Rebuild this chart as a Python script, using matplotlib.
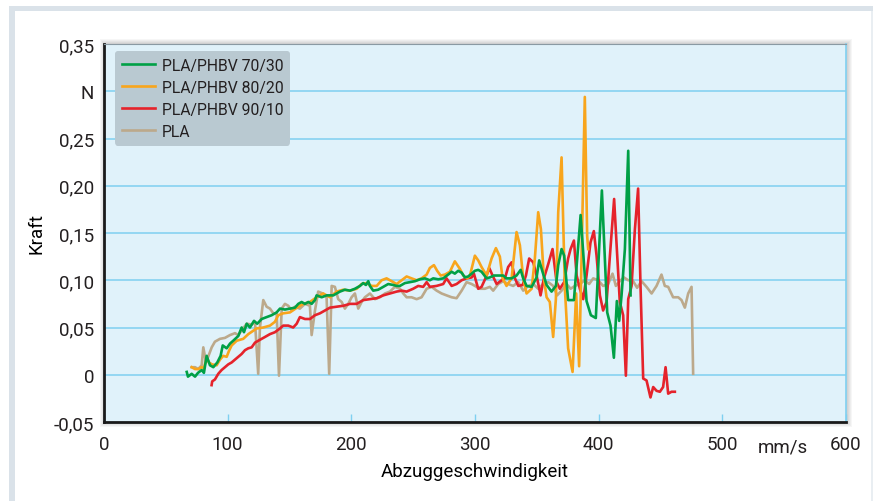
import matplotlib
matplotlib.use("Agg")
import matplotlib.pyplot as plt
from matplotlib.patches import Rectangle

# --- data (x in mm/s, force in N) ---
x_7030 = [66.9, 67.9, 70.9, 73.6, 76.0, 79.0, 80.8, 83.0, 85.7, 88.4, 91.6, 94.3, 96.0, 99.2, 101.9,
          104.5, 108.6, 111.3, 113.2, 115.4, 118.0, 121.3, 123.9, 127.5, 131.5, 135.6, 139.6, 142.3,
          146.3, 150.4, 154.4, 157.1, 159.8, 162.5, 165.2, 167.9, 170.6, 171.9, 176.0, 180.0, 185.4,
          190.8, 194.8, 198.9, 202.9, 207.0, 209.6, 211.8, 213.7, 215.0, 217.7, 221.7, 225.8, 229.8,
          233.9, 236.6, 239.3, 243.3, 247.4, 251.4, 255.5, 259.5, 263.5, 266.2, 270.3, 274.3, 278.3,
          281.1, 283.7, 286.4, 289.2, 291.8, 294.5, 297.3, 299.9, 302.6, 305.3, 309.4, 312.0, 315.3,
          322.8, 325.5, 329.6, 333.6, 336.9, 339.0, 341.7, 345.8, 349.8, 351.9, 354.6, 357.9, 361.9,
          365.4, 367.3, 370.0, 372.1, 375.3, 380.0, 385.4, 390.2, 393.7, 397.7, 402.6, 405.0, 406.9,
          409.6, 412.3, 414.7, 416.6, 418.5, 421.2, 423.9, 425.8]
f_7030 = [0.003, -0.002, 0.001, -0.002, 0.002, 0.005, 0.002, 0.020, 0.010, 0.008, 0.013, 0.020, 0.031,
          0.028, 0.033, 0.036, 0.041, 0.050, 0.045, 0.054, 0.050, 0.057, 0.054, 0.059, 0.061, 0.063,
          0.066, 0.070, 0.069, 0.070, 0.071, 0.075, 0.077, 0.075, 0.077, 0.075, 0.079, 0.084, 0.082,
          0.084, 0.084, 0.088, 0.090, 0.089, 0.091, 0.094, 0.097, 0.095, 0.099, 0.094, 0.089, 0.090,
          0.093, 0.096, 0.095, 0.094, 0.094, 0.097, 0.098, 0.099, 0.101, 0.102, 0.100, 0.102, 0.101,
          0.102, 0.106, 0.109, 0.107, 0.110, 0.108, 0.103, 0.104, 0.107, 0.110, 0.111, 0.109, 0.102,
          0.103, 0.105, 0.105, 0.102, 0.102, 0.105, 0.111, 0.102, 0.094, 0.093, 0.103, 0.121, 0.109,
          0.095, 0.088, 0.094, 0.116, 0.133, 0.126, 0.079, 0.079, 0.169, 0.078, 0.063, 0.060, 0.195,
          0.123, 0.066, 0.052, 0.018, 0.078, 0.057, 0.084, 0.133, 0.237, 0.084]

x_8020 = [70.9, 73.6, 76.2, 79.0, 80.8, 83.0, 84.9, 87.3, 91.1, 93.8, 96.4, 99.2, 101.0, 103.2, 107.3,
          112.6, 116.7, 123.4, 128.8, 134.2, 138.2, 140.9, 144.9, 150.4, 157.1, 161.1, 166.5, 171.9,
          177.3, 182.7, 188.1, 193.5, 198.9, 204.3, 208.3, 212.4, 216.4, 220.5, 224.5, 228.5, 232.6,
          236.6, 240.7, 244.7, 248.7, 252.8, 256.8, 260.9, 263.5, 266.8, 269.4, 272.2, 275.7, 279.7,
          283.7, 287.8, 290.5, 293.7, 295.9, 299.9, 302.6, 305.3, 309.4, 313.4, 316.9, 320.1, 322.3,
          325.5, 329.6, 333.6, 336.3, 339.0, 341.7, 345.8, 348.4, 351.1, 353.3, 355.7, 357.9, 360.5,
          363.2, 365.4, 367.3, 370.0, 372.7, 375.3, 378.9, 381.8, 384.2, 386.2, 388.8, 390.7, 391.5]
f_8020 = [0.008, 0.006, 0.006, 0.008, 0.007, 0.018, 0.013, 0.011, 0.010, 0.016, 0.020, 0.019, 0.025,
          0.031, 0.036, 0.038, 0.043, 0.049, 0.050, 0.052, 0.056, 0.063, 0.065, 0.066, 0.072, 0.075,
          0.077, 0.082, 0.086, 0.082, 0.088, 0.090, 0.089, 0.091, 0.096, 0.097, 0.094, 0.094, 0.100,
          0.102, 0.099, 0.096, 0.100, 0.104, 0.102, 0.100, 0.102, 0.106, 0.113, 0.116, 0.110, 0.105,
          0.106, 0.109, 0.120, 0.112, 0.105, 0.102, 0.105, 0.126, 0.121, 0.114, 0.105, 0.123, 0.134,
          0.125, 0.102, 0.094, 0.102, 0.151, 0.137, 0.102, 0.086, 0.091, 0.123, 0.172, 0.154, 0.102,
          0.082, 0.077, 0.040, 0.080, 0.172, 0.230, 0.091, 0.028, 0.003, 0.086, 0.009, 0.126, 0.294,
          0.147, 0.133]

x_9010 = [87.0, 87.5, 89.7, 92.4, 95.1, 97.8, 100.5, 103.2, 105.9, 108.6, 111.3, 114.0, 116.7, 119.4,
          122.1, 126.1, 130.2, 134.2, 138.2, 142.3, 144.9, 149.0, 153.0, 155.8, 158.4, 162.5, 166.5,
          170.6, 174.6, 178.7, 182.7, 188.1, 193.5, 198.9, 204.3, 209.6, 215.0, 220.5, 225.8, 231.2,
          236.6, 240.7, 244.7, 250.0, 254.1, 258.1, 260.9, 263.5, 268.9, 274.3, 277.0, 281.1, 285.1,
          289.2, 293.2, 297.3, 299.1, 302.6, 305.3, 308.8, 311.5, 314.2, 317.5, 321.5, 324.2, 326.8,
          329.6, 332.3, 335.0, 338.5, 341.2, 343.8, 347.1, 349.8, 353.0, 355.7, 359.2, 362.7, 366.0,
          368.6, 372.1, 375.3, 377.3, 380.0, 382.2, 384.8, 387.5, 390.2, 393.4, 396.1, 398.3, 401.0,
          403.6, 406.4, 409.1, 412.5, 414.4, 417.1, 419.8, 422.0, 423.9, 426.6, 429.3, 431.9, 433.9,
          436.0, 438.7, 441.9, 444.1, 446.8, 449.5, 452.1, 454.1, 456.2, 458.9, 461.6]
f_9010 = [-0.011, -0.007, -0.005, 0.001, 0.005, 0.008, 0.011, 0.013, 0.016, 0.019, 0.022, 0.026, 0.028,
          0.029, 0.034, 0.037, 0.040, 0.043, 0.045, 0.049, 0.052, 0.052, 0.050, 0.054, 0.061, 0.059,
          0.059, 0.063, 0.065, 0.068, 0.071, 0.072, 0.073, 0.075, 0.075, 0.079, 0.080, 0.081, 0.084,
          0.086, 0.088, 0.089, 0.088, 0.091, 0.094, 0.093, 0.098, 0.093, 0.094, 0.096, 0.102, 0.094,
          0.096, 0.100, 0.102, 0.103, 0.107, 0.091, 0.093, 0.103, 0.113, 0.105, 0.096, 0.100, 0.102,
          0.114, 0.119, 0.102, 0.094, 0.095, 0.105, 0.123, 0.119, 0.105, 0.084, 0.102, 0.117, 0.133,
          0.098, 0.091, 0.098, 0.123, 0.133, 0.142, 0.105, 0.091, 0.080, 0.105, 0.140, 0.152, 0.126,
          0.084, 0.068, 0.077, 0.126, 0.186, 0.140, 0.077, 0.063, -0.001, 0.080, 0.094, 0.154, 0.197,
          0.091, -0.004, -0.006, -0.024, -0.013, -0.017, -0.018, -0.013, 0.008, -0.020, -0.018, -0.018]

x_pla = [70.9, 73.6, 76.2, 79.0, 80.3, 82.5, 84.5, 87.1, 89.7, 93.8, 97.8, 101.9, 105.9, 108.6, 111.3,
         115.4, 119.4, 122.1, 124.7, 126.1, 128.8, 131.5, 134.2, 136.9, 139.6, 141.5, 143.7, 146.3,
         149.0, 151.7, 154.4, 158.4, 162.5, 166.5, 167.9, 170.6, 173.2, 176.8, 180.0, 182.1, 184.1,
         186.7, 189.4, 192.2, 194.8, 197.5, 200.2, 202.9, 205.6, 208.3, 211.0, 215.0, 219.1, 223.1,
         227.2, 231.2, 235.2, 239.3, 242.0, 244.7, 248.7, 252.8, 256.8, 260.9, 264.9, 269.0, 273.0,
         277.0, 281.1, 285.1, 289.2, 293.2, 297.3, 301.3, 304.0, 308.0, 312.0, 314.7, 318.8, 322.8,
         326.8, 330.9, 334.9, 339.0, 343.0, 347.1, 351.1, 355.1, 359.2, 363.2, 366.4, 370.0, 374.1,
         377.3, 380.8, 384.8, 388.8, 392.3, 395.6, 399.6, 403.6, 407.7, 411.2, 413.9, 417.1, 420.4,
         423.9, 427.4, 431.1, 434.7, 438.7, 442.8, 446.8, 450.8, 453.5, 456.2, 460.2, 464.3, 467.0,
         469.7, 472.4, 475.1, 476.4]
f_pla = [0.008, 0.008, 0.006, 0.010, 0.029, 0.013, 0.020, 0.029, 0.035, 0.038, 0.039, 0.042, 0.044,
         0.042, 0.047, 0.054, 0.053, 0.056, 0.001, 0.050, 0.079, 0.072, 0.070, 0.065, 0.065, -0.001,
         0.070, 0.075, 0.073, 0.068, 0.072, 0.070, 0.075, 0.073, 0.042, 0.068, 0.088, 0.086, 0.082,
         0.001, 0.094, 0.093, 0.080, 0.077, 0.070, 0.075, 0.082, 0.086, 0.070, 0.077, 0.082, 0.086,
         0.080, 0.082, 0.086, 0.088, 0.093, 0.091, 0.086, 0.082, 0.082, 0.080, 0.082, 0.091, 0.093,
         0.089, 0.086, 0.084, 0.082, 0.081, 0.089, 0.098, 0.096, 0.093, 0.091, 0.091, 0.093, 0.089,
         0.096, 0.099, 0.096, 0.094, 0.098, 0.089, 0.094, 0.096, 0.091, 0.096, 0.098, 0.094, 0.084,
         0.089, 0.096, 0.091, 0.094, 0.096, 0.100, 0.096, 0.102, 0.100, 0.094, 0.096, 0.107, 0.094,
         0.099, 0.103, 0.100, 0.100, 0.092, 0.099, 0.093, 0.086, 0.094, 0.106, 0.094, 0.093, 0.082,
         0.082, 0.079, 0.071, 0.086, 0.093, 0.001]

labels = ["PLA/PHBV 70/30", "PLA/PHBV 80/20", "PLA/PHBV 90/10", "PLA"]
colors = ["#00a046", "#f8a51c", "#e5232b", "#bca98b"]
y_ticks = [-0.05, 0, 0.05, 0.10, 0.15, 0.20, 0.25, 0.30, 0.35]
y_ticklabels = ["-0,05", "0", "0,05", "0,10", "0,15", "0,20", "0,25", "N", "0,35"]
x_ticks = [0, 100, 200, 300, 400, 500, 600]

FONT = ["Roboto", "DejaVu Sans"]
TXT = "#231f20"
FS = 13.5
LEG_FS = 11.3
plt.rcParams.update({"font.family": FONT, "font.size": FS, "text.color": TXT,
                     "xtick.color": TXT, "ytick.color": TXT})

W, H = 874, 502
fig = plt.figure(figsize=(W / 100, H / 100), dpi=100)
fig.patch.set_facecolor("white")

# outer frame (grey band top/left, thin line right)
fig.add_artist(Rectangle((9 / W, 0), 6 / W, (H - 7) / H, transform=fig.transFigure,
                         facecolor="#dae2e9", edgecolor="none", zorder=0))
fig.add_artist(Rectangle((9 / W, (H - 12) / H), 864 / W, 5 / H, transform=fig.transFigure,
                         facecolor="#dae2e9", edgecolor="none", zorder=0))
fig.add_artist(Rectangle((871 / W, 0), 2 / W, (H - 12) / H, transform=fig.transFigure,
                         facecolor="#e9eef2", edgecolor="none", zorder=0))

ax_l, ax_r, ax_t, ax_b = 104, 846, 45, 423
ax = fig.add_axes([ax_l / W, 1 - ax_b / H, (ax_r - ax_l) / W, (ax_b - ax_t) / H])

# soft shadow around plot area
for k in range(1, 6):
    fig.add_artist(Rectangle(((ax_l - k + 1) / W, 1 - (ax_b + k) / H), (ax_r - ax_l + 2 * k) / W,
                             (ax_b - ax_t + 2 * k) / H, transform=fig.transFigure,
                             facecolor="black", alpha=0.035, edgecolor="none", zorder=0.5))

ax.set_facecolor("#e0f2fa")
ax.set_zorder(2)

series = [(x_7030, f_7030), (x_8020, f_8020), (x_9010, f_9010), (x_pla, f_pla)]
zorders = [6, 5, 4, 3]
for (xs, ys), lab, col, z in zip(series, labels, colors, zorders):
    ax.plot(xs, ys, color=col, lw=1.9, label=lab, zorder=z, solid_joinstyle="round")

ax.set_xlim(0, 600)
ax.set_ylim(-0.05, 0.35)
for yv in y_ticks[1:-1]:
    ax.axhline(yv, color="#7fd0f0", lw=1.1, zorder=1)

ax.set_yticks(y_ticks)
ax.set_yticklabels(y_ticklabels)
ax.tick_params(axis="y", length=0, pad=7)
ax.set_xticks(x_ticks)
ax.set_xticklabels([str(v) for v in x_ticks])
ax.tick_params(axis="x", direction="in", length=6, width=1, color="#7fd0f0", pad=9)
ax.text(549, -0.066, "mm/s", ha="center", va="top", fontsize=FS, color=TXT)

for s in ("left", "bottom"):
    ax.spines[s].set_color("#1a1a1a")
    ax.spines[s].set_linewidth(2.0)
ax.spines["top"].set_color("#8a9aa3")
ax.spines["top"].set_linewidth(0.8)
ax.spines["right"].set_color("#7fd0f0")
ax.spines["right"].set_linewidth(1.2)

ax.set_ylabel("Kraft", labelpad=6)
ax.set_xlabel("Abzuggeschwindigkeit", labelpad=7)

leg = ax.legend(loc="upper left", bbox_to_anchor=(0.015, 0.981), borderaxespad=0,
                fontsize=LEG_FS, handlelength=2.1, handletextpad=0.45, labelspacing=0.45,
                borderpad=0.42, fancybox=True, framealpha=1)
leg.get_frame().set_facecolor("#b9c9d1")
leg.get_frame().set_edgecolor("none")
leg.set_zorder(10)
for t in leg.get_texts():
    t.set_color(TXT)

fig.savefig("out.png", dpi=100)
